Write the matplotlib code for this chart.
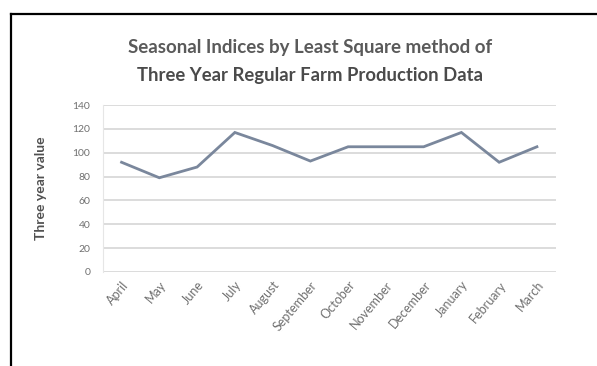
import matplotlib.pyplot as plt
from matplotlib.lines import Line2D

plt.rcParams["font.family"] = ["Lato", "DejaVu Sans"]

months = ["April", "May", "June", "July", "August", "September", "October",
          "November", "December", "January", "February", "March"]
seasonal_index = [92, 79, 88, 117, 106, 93, 105, 105, 105, 117, 92, 105]
y_ticks = [0, 20, 40, 60, 80, 100, 120, 140]

fig = plt.figure(figsize=(5.97, 3.66), dpi=100)
fig.patch.set_facecolor("white")

# frame edges along the top and left of the canvas
fig.add_artist(Line2D([10.5 / 597, 1.0], [1 - 13.5 / 366] * 2,
                      transform=fig.transFigure, color="black", lw=1.6))
fig.add_artist(Line2D([10.5 / 597] * 2, [0.0, 1 - 13.5 / 366],
                      transform=fig.transFigure, color="black", lw=1.6))

ax = fig.add_axes([0.172, 0.257, 0.759, 0.456])
x = list(range(len(months)))
ax.plot(x, seasonal_index, color="#7a879c", lw=2.0, solid_joinstyle="miter")

ax.set_xlim(-0.5, len(months) - 0.5)
ax.set_ylim(0, 140)
ax.set_yticks(y_ticks)
ax.set_yticklabels([str(v) for v in y_ticks], fontsize=7.5, color="#707070")
ax.set_xticks(x)
ax.set_xticklabels(months, rotation=50, ha="right", rotation_mode="anchor",
                   fontsize=9, color="#707070")
ax.tick_params(axis="y", length=0, pad=9)
ax.tick_params(axis="x", length=0, pad=5)
ax.grid(axis="y", color="#dcdcdc", lw=1.4)
ax.set_axisbelow(True)
for side in ("top", "right", "bottom"):
    ax.spines[side].set_visible(False)
ax.spines["left"].set_color("#e6e6e6")

ax.set_ylabel("Three year value", fontsize=10, fontweight="bold",
              color="#505050")
ax.yaxis.set_label_coords(-0.123, 0.5)

fig.text(310 / 597, 1 - 47 / 366, "Seasonal Indices by Least Square method of",
         ha="center", va="center", fontsize=13.5, fontweight="bold",
         color="#5a5a5a")
fig.text(310 / 597, 1 - 75 / 366, "Three Year Regular Farm Production Data",
         ha="center", va="center", fontsize=13.3, fontweight="bold",
         color="#4a4a4a")

fig.savefig("out.png", dpi=100, facecolor="white")
